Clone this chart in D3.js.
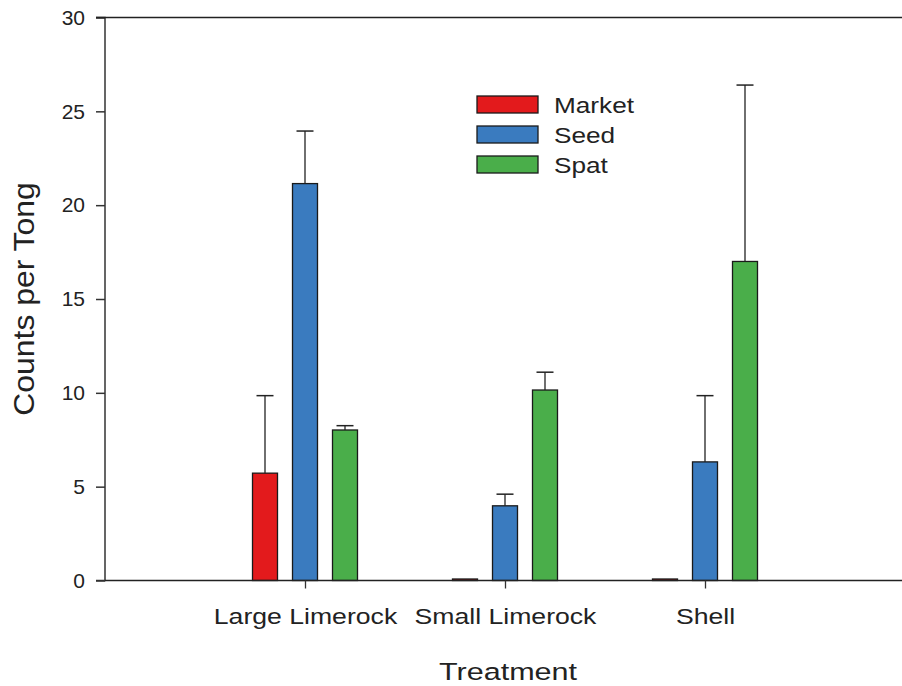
<!DOCTYPE html>
<html><head><meta charset="utf-8">
<script src="https://cdn.jsdelivr.net/npm/d3@7"></script>
<style>body{margin:0;background:#fff}svg{display:block;font-family:"Liberation Sans",Arial,sans-serif}</style>
</head><body>
<script>
const categories = ["Large Limerock", "Small Limerock", "Shell"];
const seriesNames = ["Market", "Seed", "Spat"];
const market = [5.72, 0.08, 0.08];
const marketErr = [9.85, null, null];
const seed = [21.15, 3.98, 6.32];
const seedErr = [23.95, 4.6, 9.85];
const spat = [8.02, 10.15, 17.0];
const spatErr = [8.25, 11.1, 26.4];
const colors = ["#e31a1c", "#3a7bbf", "#4aae4a"];
const yTicks = [0, 5, 10, 15, 20, 25, 30];

const W = 902, H = 686;
const FONT = "Liberation Sans, Arial, sans-serif";
const svg = d3.select("body").append("svg").attr("width", W).attr("height", H);
const x0 = 105, xEnd = 905;
const x = d3.scaleLinear().domain([0, 4]).range([x0, xEnd]);
const y = d3.scaleLinear().domain([0, 30]).range([580.5, 17.5]);

const values = [market, seed, spat];
const errs = [marketErr, seedErr, spatErr];
const offsets = [-0.2, 0, 0.2];
const barW = 25;

// bars
values.forEach((vals, s) => {
  vals.forEach((v, i) => {
    const cx = x(i + 1 + offsets[s]);
    svg.append("rect")
      .attr("x", cx - barW / 2).attr("y", y(v))
      .attr("width", barW).attr("height", y(0) - y(v))
      .attr("fill", colors[s]).attr("stroke", "#1a1a1a").attr("stroke-width", 1.3);
    const e = errs[s][i];
    if (e != null) {
      svg.append("line").attr("x1", cx).attr("x2", cx).attr("y1", y(v)).attr("y2", y(e))
        .attr("stroke", "#222").attr("stroke-width", 1.3);
      svg.append("line").attr("x1", cx - 8.5).attr("x2", cx + 8.5).attr("y1", y(e)).attr("y2", y(e))
        .attr("stroke", "#222").attr("stroke-width", 1.5);
    }
  });
});

// y axis
const yAxis = d3.axisLeft(y).tickValues(yTicks).tickSize(9).tickPadding(11).tickFormat(d3.format("d"));
const gy = svg.append("g").attr("transform", `translate(${x0},0)`).call(yAxis);
gy.select(".domain").attr("stroke", "#333").attr("stroke-width", 1.5).attr("d", `M-9,${y(30)}H0V${y(0)}H-9`);
gy.selectAll(".tick line").attr("stroke", "#333").attr("stroke-width", 1.5);
gy.selectAll(".tick text").attr("font-size", 21).attr("fill", "#222").attr("font-family", FONT);

// x axis
const xAxis = d3.axisBottom(x).tickValues([1, 2, 3]).tickFormat((d) => categories[d - 1]).tickSize(8).tickPadding(20);
const gx = svg.append("g").attr("transform", `translate(0,${y(0)})`).call(xAxis);
gx.select(".domain").attr("stroke", "#222").attr("stroke-width", 1.5).attr("d", `M${x0},0H${xEnd}`);
gx.selectAll(".tick line").attr("stroke", "#333").attr("stroke-width", 1.3);
gx.selectAll(".tick text").attr("font-size", 22).attr("fill", "#222").attr("font-family", FONT)
  .attr("transform", "scale(1.21,1)");

// top border
svg.append("line").attr("x1", x0 - 9).attr("x2", xEnd).attr("y1", y(30)).attr("y2", y(30))
  .attr("stroke", "#222").attr("stroke-width", 1.5);

// axis titles
svg.append("text").attr("transform", "translate(508,680) scale(1.3,1)").attr("text-anchor", "middle")
  .attr("font-size", 23.5).attr("fill", "#222").attr("font-family", FONT).text("Treatment");
svg.append("text").attr("transform", `translate(34,${y(15)}) rotate(-90) scale(1.1,1)`).attr("text-anchor", "middle")
  .attr("font-size", 29).attr("fill", "#222").attr("font-family", FONT).text("Counts per Tong");

// legend
seriesNames.forEach((n, i) => {
  const ly = 96 + i * 30;
  svg.append("rect").attr("x", 477).attr("y", ly).attr("width", 61).attr("height", 17)
    .attr("fill", colors[i]).attr("stroke", "#1a1a1a").attr("stroke-width", 1.3);
  svg.append("text").attr("transform", `translate(554,${ly + 17}) scale(1.19,1)`)
    .attr("font-size", 22).attr("fill", "#222").attr("font-family", FONT).text(n);
});
</script>
</body></html>
